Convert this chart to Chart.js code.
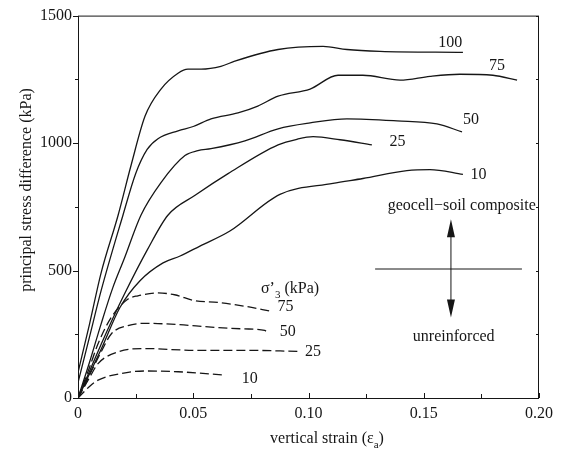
<!DOCTYPE html>
<html>
<head>
<meta charset="utf-8">
<script src="https://cdn.jsdelivr.net/npm/chart.js@4.4.1/dist/chart.umd.min.js"></script>
<style>
  body { margin: 0; background: #fff; }
  #wrap { width: 563px; height: 457px; }
</style>
</head>
<body>
<div id="wrap"><canvas id="chart" width="563" height="457"></canvas></div>
<script>

// geocell-soil composite, confining pressure 100 / 75 / 50 / 25 / 10 kPa
const strainR100 = [0, 0.005, 0.01, 0.0174, 0.023, 0.0291, 0.036, 0.0434, 0.0477, 0.0534, 0.062, 0.068, 0.0868, 0.1063, 0.1167, 0.131, 0.167];
const stressR100 = [100, 290, 490, 717, 912, 1106, 1212, 1274, 1290, 1290, 1301, 1321, 1367, 1379, 1367, 1360, 1356];

const strainR75 = [0, 0.005, 0.01, 0.0195, 0.025, 0.03, 0.0347, 0.0434, 0.05, 0.0577, 0.0694, 0.078, 0.0868, 0.1007, 0.1128, 0.1236, 0.1397, 0.1527, 0.1657, 0.18, 0.1905];
const stressR75 = [60, 240, 420, 717, 880, 975, 1017, 1048, 1065, 1095, 1118, 1145, 1184, 1212, 1266, 1266, 1247, 1262, 1270, 1266, 1247];

const strainR50 = [0, 0.005, 0.01, 0.015, 0.02, 0.0273, 0.036, 0.0464, 0.052, 0.0577, 0.0724, 0.0868, 0.1007, 0.1167, 0.1384, 0.1557, 0.1666];
const stressR50 = [0, 140, 290, 430, 545, 717, 845, 951, 970, 978, 1009, 1056, 1079, 1095, 1087, 1075, 1044];

const strainR25 = [0, 0.005, 0.01, 0.015, 0.02, 0.03, 0.039, 0.0508, 0.0651, 0.0868, 0.095, 0.102, 0.1137, 0.1275];
const stressR25 = [0, 105, 210, 310, 405, 580, 717, 795, 880, 993, 1015, 1025, 1013, 993];

const strainR10 = [0, 0.005, 0.01, 0.0182, 0.0269, 0.0369, 0.0443, 0.0529, 0.0659, 0.0876, 0.1106, 0.1236, 0.1427, 0.1527, 0.167];
const stressR10 = [0, 95, 190, 355, 460, 530, 557, 596, 655, 799, 842, 861, 892, 896, 877];

// unreinforced, confining pressure 75 / 50 / 25 / 10 kPa
const strainU75 = [0, 0.005, 0.0087, 0.0145, 0.0217, 0.026, 0.0347, 0.0419, 0.0506, 0.0607, 0.0723, 0.0839];
const stressU75 = [0, 120, 213, 317, 388, 401, 412, 405, 382, 375, 360, 340];

const strainU50 = [0, 0.005, 0.01, 0.0145, 0.0217, 0.0289, 0.0434, 0.0578, 0.0723, 0.081, 0.0824];
const stressU50 = [0, 90, 180, 252, 284, 293, 288, 278, 271, 265, 255];

const strainU25 = [0, 0.005, 0.0087, 0.0174, 0.0289, 0.0506, 0.0723, 0.0954];
const stressU25 = [0, 80, 135, 181, 194, 187, 187, 183];

const strainU10 = [0, 0.005, 0.0087, 0.0188, 0.0289, 0.0434, 0.0636];
const stressU10 = [0, 45, 70, 96, 106, 103, 90];

const strainTicks = [0, 0.05, 0.10, 0.15, 0.20];
const strainTickLabels = ["0", "0.05", "0.10", "0.15", "0.20"];
const stressTicks = [0, 500, 1000, 1500];
const stressTickLabels = ["0", "500", "1000", "1500"];

const ink = "#161616";
const serif = "'Liberation Serif', 'Times New Roman', serif";

function pairs(xs, ys) {
    return xs.map((v, i) => ({ x: v, y: ys[i] }));
}

function curve(xs, ys, dashed) {
    return {
        data: pairs(xs, ys),
        borderColor: ink,
        borderWidth: 1.3,
        borderDash: dashed ? [9, 4] : [],
        pointRadius: 0,
        cubicInterpolationMode: "monotone",
        fill: false
    };
}

// text placed in data units (strain, kPa)
const curveNotes = [
    { text: "100", x: 0.1615, y: 1395 },
    { text: "75", x: 0.1818, y: 1305 },
    { text: "50", x: 0.1705, y: 1090 },
    { text: "25", x: 0.1386, y: 1005 },
    { text: "10", x: 0.1738, y: 875 },
    { text: "75", x: 0.0900, y: 357 },
    { text: "50", x: 0.0910, y: 258 },
    { text: "25", x: 0.1020, y: 183 },
    { text: "10", x: 0.0745, y: 76 },
    { text: "geocell\u2212soil composite", x: 0.1665, y: 753 },
    { text: "unreinforced", x: 0.1630, y: 242 }
];

function drawParts(ctx, parts, cx, cy) {
    const big = "16px " + serif;
    const small = "11px " + serif;
    let total = 0;
    parts.forEach((p) => {
        ctx.font = p.sub ? small : big;
        p.w = ctx.measureText(p.t).width;
        total += p.w;
    });
    let px = cx - total / 2;
    ctx.textAlign = "left";
    parts.forEach((p) => {
        ctx.font = p.sub ? small : big;
        ctx.fillText(p.t, px, cy + (p.sub ? 5 : 0));
        px += p.w;
    });
}

const decorations = {
    id: "decorations",
    afterDraw(chart) {
        const { ctx, chartArea: a, scales: { x, y } } = chart;
        ctx.save();
        ctx.strokeStyle = ink;
        ctx.fillStyle = ink;
        ctx.lineWidth = 1;

        // frame
        ctx.strokeRect(a.left + 0.5, a.top + 0.5, a.right - a.left - 1, a.bottom - a.top);

        ctx.beginPath();
        // x ticks, pointing into the plot
        for (let i = 0; i <= 8; i++) {
            const px = Math.round(x.getPixelForValue(i * 0.025)) + 0.5;
            ctx.moveTo(px, a.bottom);
            ctx.lineTo(px, a.bottom - (i % 2 == 0 ? 5 : 4));
        }
        // y ticks, outside on the left, inside on the right
        for (let i = 0; i <= 6; i++) {
            const py = Math.round(y.getPixelForValue(i * 250)) + 0.5;
            ctx.moveTo(a.left, py);
            ctx.lineTo(a.left - (i % 2 == 0 ? 5 : 3), py);
            ctx.moveTo(a.right, py);
            ctx.lineTo(a.right - 3, py);
        }
        ctx.stroke();

        // arrow marking the two groups
        const ax = x.getPixelForValue(0.1618);
        const top = y.getPixelForValue(701);
        const bottom = y.getPixelForValue(316);
        const mid = y.getPixelForValue(506);
        ctx.beginPath();
        ctx.moveTo(x.getPixelForValue(0.1289), mid);
        ctx.lineTo(x.getPixelForValue(0.1926), mid);
        ctx.moveTo(ax, top + 10);
        ctx.lineTo(ax, bottom - 10);
        ctx.stroke();
        ctx.beginPath();
        ctx.moveTo(ax, top);
        ctx.lineTo(ax - 4, top + 18);
        ctx.lineTo(ax + 4, top + 18);
        ctx.closePath();
        ctx.moveTo(ax, bottom);
        ctx.lineTo(ax - 4, bottom - 18);
        ctx.lineTo(ax + 4, bottom - 18);
        ctx.closePath();
        ctx.fill();

        // labels
        ctx.font = "16px " + serif;
        ctx.textAlign = "center";
        ctx.textBaseline = "middle";
        curveNotes.forEach((n) => {
            ctx.fillText(n.text, x.getPixelForValue(n.x), y.getPixelForValue(n.y));
        });

        ctx.textBaseline = "alphabetic";
        drawParts(ctx, [{ t: "\u03c3\u2019" }, { t: "3", sub: true }, { t: " (kPa)" }], 290, y.getPixelForValue(432) + 5);

        // axis titles
        drawParts(ctx, [{ t: "vertical strain (\u03b5" }, { t: "a", sub: true }, { t: ")" }], 327, 443);

        ctx.translate(27, 190);
        ctx.rotate(-Math.PI / 2);
        ctx.font = "16px " + serif;
        ctx.textAlign = "center";
        ctx.textBaseline = "middle";
        ctx.fillText("principal stress difference (kPa)", 0, 0);
        ctx.restore();
    }
};

new Chart(document.getElementById("chart"), {
    type: "line",
    data: {
        datasets: [
            curve(strainR100, stressR100, false),
            curve(strainR75, stressR75, false),
            curve(strainR50, stressR50, false),
            curve(strainR25, stressR25, false),
            curve(strainR10, stressR10, false),
            curve(strainU75, stressU75, true),
            curve(strainU50, stressU50, true),
            curve(strainU25, stressU25, true),
            curve(strainU10, stressU10, true)
        ]
    },
    options: {
        responsive: false,
        animation: false,
        devicePixelRatio: 1,
        layout: { padding: { left: 0, top: 13, right: 24, bottom: 0 } },
        plugins: {
            legend: { display: false },
            tooltip: { enabled: false }
        },
        scales: {
            x: {
                type: "linear",
                min: 0,
                max: 0.2,
                afterFit: (s) => { s.height = 59; },
                afterBuildTicks: (s) => { s.ticks = strainTicks.map((v) => ({ value: v })); },
                ticks: {
                    callback: (v, i) => strainTickLabels[i],
                    font: { family: serif, size: 16 },
                    color: ink,
                    padding: 6,
                    maxRotation: 0,
                    autoSkip: false
                },
                grid: { display: false, drawTicks: false },
                border: { display: false }
            },
            y: {
                min: 0,
                max: 1500,
                afterFit: (s) => { s.width = 78; },
                afterBuildTicks: (s) => { s.ticks = stressTicks.map((v) => ({ value: v })); },
                ticks: {
                    callback: (v, i) => stressTickLabels[i],
                    font: { family: serif, size: 16 },
                    color: ink,
                    padding: 6,
                    autoSkip: false
                },
                grid: { display: false, drawTicks: false },
                border: { display: false }
            }
        }
    },
    plugins: [decorations]
});

</script>
</body>
</html>
